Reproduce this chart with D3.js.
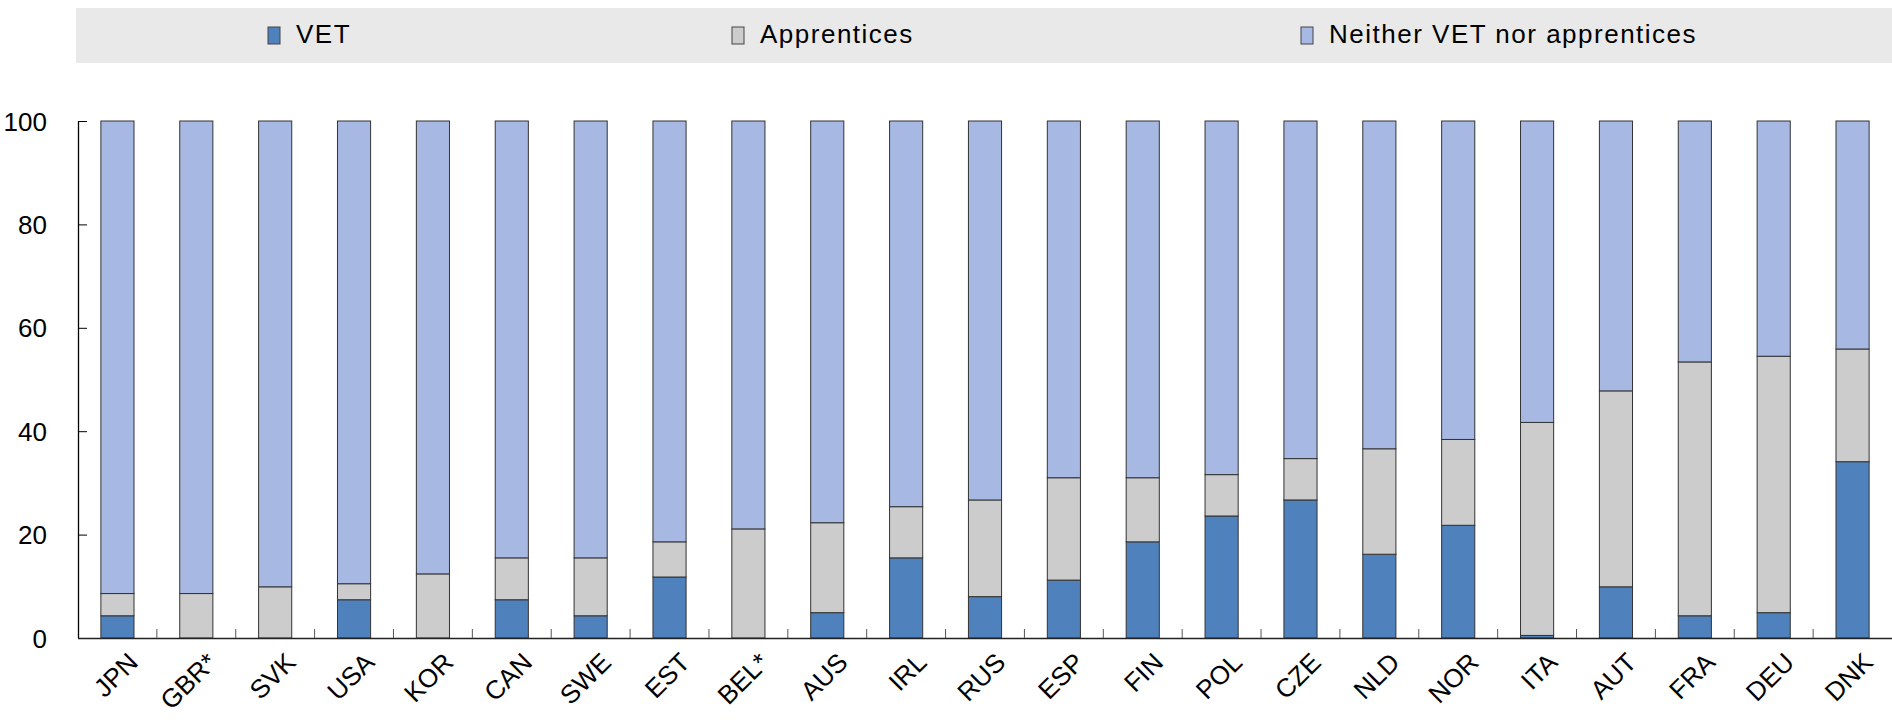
<!DOCTYPE html>
<html>
<head>
<meta charset="utf-8">
<script src="https://cdn.jsdelivr.net/npm/d3@7"></script>
<style>
  html, body { margin: 0; padding: 0; background: #fff; }
  svg { display: block; }
  text { font-family: "Liberation Sans", Arial, sans-serif; fill: #000; }
</style>
</head>
<body>
<svg id="chart" width="1892" height="728"></svg>
<script>
const countries = ["JPN","GBR*","SVK","USA","KOR","CAN","SWE","EST","BEL*","AUS","IRL","RUS","ESP","FIN","POL","CZE","NLD","NOR","ITA","AUT","FRA","DEU","DNK"];
const vet        = [4.3, 0, 0, 7.4, 0, 7.4, 4.3, 11.8, 0, 4.9, 15.5, 8.0, 11.2, 18.6, 23.6, 26.7, 16.2, 21.8, 0.5, 9.9, 4.3, 4.9, 34.1];
const apprentice = [4.3, 8.6, 9.9, 3.1, 12.4, 8.1, 11.2, 6.8, 21.1, 17.4, 9.9, 18.7, 19.8, 12.4, 8.0, 8.0, 20.4, 16.6, 41.2, 37.9, 49.1, 49.6, 21.8];
const yTicks = [0, 20, 40, 60, 80, 100];
const seriesNames = ["VET", "Apprentices", "Neither VET nor apprentices"];
const seriesColors = ["#4f81bd", "#cccccc", "#a7b9e3"];

const rows = countries.map((c, i) => ({
  country: c,
  vet: vet[i],
  app: apprentice[i],
  neither: 100 - vet[i] - apprentice[i]
}));
const keys = ["vet", "app", "neither"];
const stack = d3.stack().keys(keys)(rows);

const svg = d3.select("#chart");
const margin = { left: 78, right: 0, top: 121, bottom: 90 };
const W = 1892, H = 728;

const x = d3.scaleBand().domain(countries).range([margin.left, W]).paddingInner(0.58).paddingOuter(0.29);
const y = d3.scaleLinear().domain([0, 100]).range([638, 121]);

// legend
svg.append("rect").attr("x", 76).attr("y", 8).attr("width", W - 76).attr("height", 55).attr("fill", "#e9e9e9");
const legendX = [268, 732, 1301];
const lg = svg.selectAll("g.leg").data(seriesNames).join("g").attr("class", "leg")
  .attr("transform", (d, i) => `translate(${legendX[i]},0)`);
lg.append("rect").attr("x", 0).attr("y", 27).attr("width", 12).attr("height", 17)
  .attr("fill", (d, i) => seriesColors[i]).attr("stroke", "#444").attr("stroke-width", 1);
lg.append("text").attr("x", 28).attr("y", 43).attr("font-size", 26).attr("letter-spacing", 1.5).text(d => d);

// bars
const layers = svg.append("g").selectAll("g").data(stack).join("g")
  .attr("fill", (d, i) => seriesColors[i]);
layers.selectAll("rect").data(d => d.filter(p => p[1] - p[0] > 0)).join("rect")
  .attr("x", d => x(d.data.country))
  .attr("width", x.bandwidth())
  .attr("y", d => y(d[1]))
  .attr("height", d => y(d[0]) - y(d[1]))
  .attr("stroke", "#333")
  .attr("stroke-width", 1);

// y axis
const yAxis = svg.append("g").attr("transform", `translate(${margin.left},0)`)
  .call(d3.axisRight(y).tickValues(yTicks).tickSize(9).tickFormat(d3.format("d")));
yAxis.select(".domain").attr("stroke", "#000").attr("stroke-width", 1.3).attr("d", `M0.5,${y(100)}V${y(0)}`);
yAxis.selectAll(".tick line").attr("stroke", "#000");
yAxis.selectAll(".tick text").attr("x", -31).attr("text-anchor", "end")
  .attr("font-size", 26).attr("dy", "0.35em");

// x axis baseline and boundary ticks
const step = x.step();
const boundaries = countries.slice(1).map(c => x(c) - (step - x.bandwidth()) / 2);
svg.append("line").attr("x1", margin.left).attr("x2", W).attr("y1", y(0) + 0.5).attr("y2", y(0) + 0.5)
  .attr("stroke", "#222").attr("stroke-width", 1.5);
svg.append("g").selectAll("line").data(boundaries).join("line")
  .attr("x1", d => d).attr("x2", d => d).attr("y1", y(0)).attr("y2", y(0) - 9)
  .attr("stroke", "#555").attr("stroke-width", 1);

// x labels
svg.append("g").selectAll("text").data(countries).join("text")
  .attr("transform", d => `translate(${x(d) + x.bandwidth() / 2 + 22},664) rotate(-45)`)
  .attr("text-anchor", "end")
  .attr("font-size", 26)
  .text(d => d);
</script>
</body>
</html>
